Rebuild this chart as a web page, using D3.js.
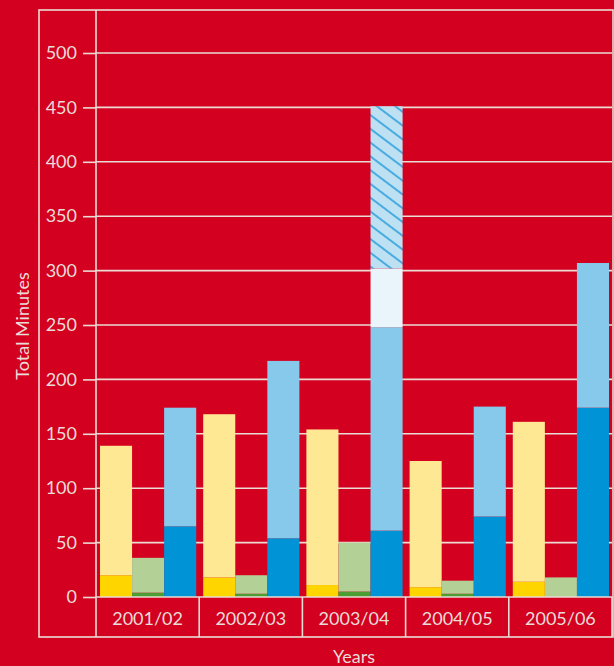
<!DOCTYPE html>
<html>
<head>
<meta charset="utf-8">
<script src="https://cdn.jsdelivr.net/npm/d3@7"></script>
<style>
  html, body { margin: 0; padding: 0; background: #D4001F; }
  svg { display: block; }
  text { font-family: Lato, "Open Sans", sans-serif; fill: #EADCD8; }
</style>
</head>
<body>
<svg id="chart" width="614" height="666"></svg>
<script>
// ---- data ----
const categories = ["2001/02", "2002/03", "2003/04", "2004/05", "2005/06"];
const series = ["yellow", "green", "blue"];
const yellowDark  = [20, 18, 11, 9, 14];
const yellowLight = [119, 150, 143, 116, 147];   // stacked on yellowDark
const greenDark   = [4, 3, 5, 3, 0];
const greenLight  = [32, 17, 45, 12, 18];        // stacked on greenDark
const blueDark    = [65, 54, 61, 74, 174];
const blueLight   = [109, 163, 187, 101, 133];   // stacked on blueDark
const bluePale    = [0, 0, 54, 0, 0];            // stacked above blueLight
const blueHatch   = [0, 0, 149, 0, 0];           // stacked above bluePale
const yTicks = [0, 50, 100, 150, 200, 250, 300, 350, 400, 450, 500];

const colors = {
  yellowDark: "#FFD500", yellowLight: "#FFE894",
  greenDark: "#4A9E32", greenLight: "#B3D197",
  blueDark: "#0093D6", blueLight: "#87C9EB",
  bluePale: "#EAF5FB", blueHatch: "url(#hatch)"
};
const lineColor = "#EADBD5";
const fontSize = 18;

const svg = d3.select("#chart");

// hatch pattern
const defs = svg.append("defs");
const pat = defs.append("pattern")
  .attr("id", "hatch").attr("patternUnits", "userSpaceOnUse")
  .attr("width", 11).attr("height", 11)
  .attr("patternTransform", "rotate(37)");
pat.append("rect").attr("width", 11).attr("height", 11).attr("fill", "#BEE0F3");
pat.append("line").attr("x1", 0).attr("x2", 11).attr("y1", 1).attr("y2", 1)
  .attr("stroke", "#1496D8").attr("stroke-width", 1.4);

// scales
const pLeft = 96, pRight = 612, pTop = 10, pBottom = 637;
const y = d3.scaleLinear().domain([0, 500]).range([597, 53]);
const x = d3.scaleBand().domain(categories).range([pLeft, pRight]);
const xs = d3.scaleBand().domain(series).range([4, x.bandwidth() - 3]);

// outer frame
svg.append("rect").attr("x", 39).attr("y", pTop).attr("width", pRight - 39 + 1).attr("height", pBottom - pTop)
  .attr("fill", "none").attr("stroke", lineColor).attr("stroke-width", 1.6);

// gridlines + ticks
const yAxis = d3.axisLeft(y).tickValues(yTicks).tickSize(13).tickPadding(6);
const gAxis = svg.append("g").attr("transform", `translate(${pLeft},0)`).call(yAxis);
gAxis.select(".domain").remove();
gAxis.selectAll("line").attr("stroke", lineColor).attr("stroke-width", 1.6);
gAxis.selectAll("text").attr("font-size", fontSize).style("font-family", "Lato, sans-serif").attr("fill", "#EADCD8");

svg.append("g").selectAll("line").data(yTicks.filter(d => d > 0)).join("line")
  .attr("x1", pLeft).attr("x2", pRight).attr("y1", d => y(d)).attr("y2", d => y(d))
  .attr("stroke", lineColor).attr("stroke-width", 1.6);

// bars
const stacks = {
  yellow: [["yellowDark", yellowDark], ["yellowLight", yellowLight]],
  green:  [["greenDark", greenDark], ["greenLight", greenLight]],
  blue:   [["blueDark", blueDark], ["blueLight", blueLight], ["bluePale", bluePale], ["blueHatch", blueHatch]]
};
const rects = [];
categories.forEach((c, i) => {
  series.forEach(s => {
    let base = 0;
    stacks[s].forEach(([key, arr]) => {
      const v = arr[i];
      if (v > 0) rects.push({ c, s, key, y0: base, y1: base + v });
      base += v;
    });
  });
});
svg.append("g").selectAll("rect").data(rects).join("rect")
  .attr("x", d => x(d.c) + xs(d.s))
  .attr("width", xs.bandwidth())
  .attr("y", d => y(d.y1))
  .attr("height", d => y(d.y0) - y(d.y1))
  .attr("fill", d => colors[d.key]);

// y axis line and x axis band
svg.append("line").attr("x1", pLeft).attr("x2", pLeft).attr("y1", pTop).attr("y2", pBottom)
  .attr("stroke", lineColor).attr("stroke-width", 1.6);
svg.append("line").attr("x1", pLeft).attr("x2", pRight).attr("y1", y(0)).attr("y2", y(0))
  .attr("stroke", lineColor).attr("stroke-width", 1.6);
svg.append("g").selectAll("line").data(categories).join("line")
  .attr("x1", d => x(d) + x.bandwidth()).attr("x2", d => x(d) + x.bandwidth())
  .attr("y1", y(0)).attr("y2", pBottom)
  .attr("stroke", lineColor).attr("stroke-width", 1.6);

svg.append("g").selectAll("text").data(categories).join("text")
  .attr("x", d => x(d) + x.bandwidth() / 2).attr("y", 618)
  .attr("text-anchor", "middle").attr("dominant-baseline", "central")
  .attr("font-size", fontSize).text(d => d);

// axis titles
svg.append("text").attr("x", (pLeft + pRight) / 2).attr("y", 656)
  .attr("text-anchor", "middle").attr("dominant-baseline", "central")
  .attr("font-size", fontSize).text("Years");
svg.append("text").attr("transform", "translate(22,326) rotate(-90)")
  .attr("text-anchor", "middle").attr("dominant-baseline", "central")
  .attr("font-size", fontSize).text("Total Minutes");
</script>
</body>
</html>
